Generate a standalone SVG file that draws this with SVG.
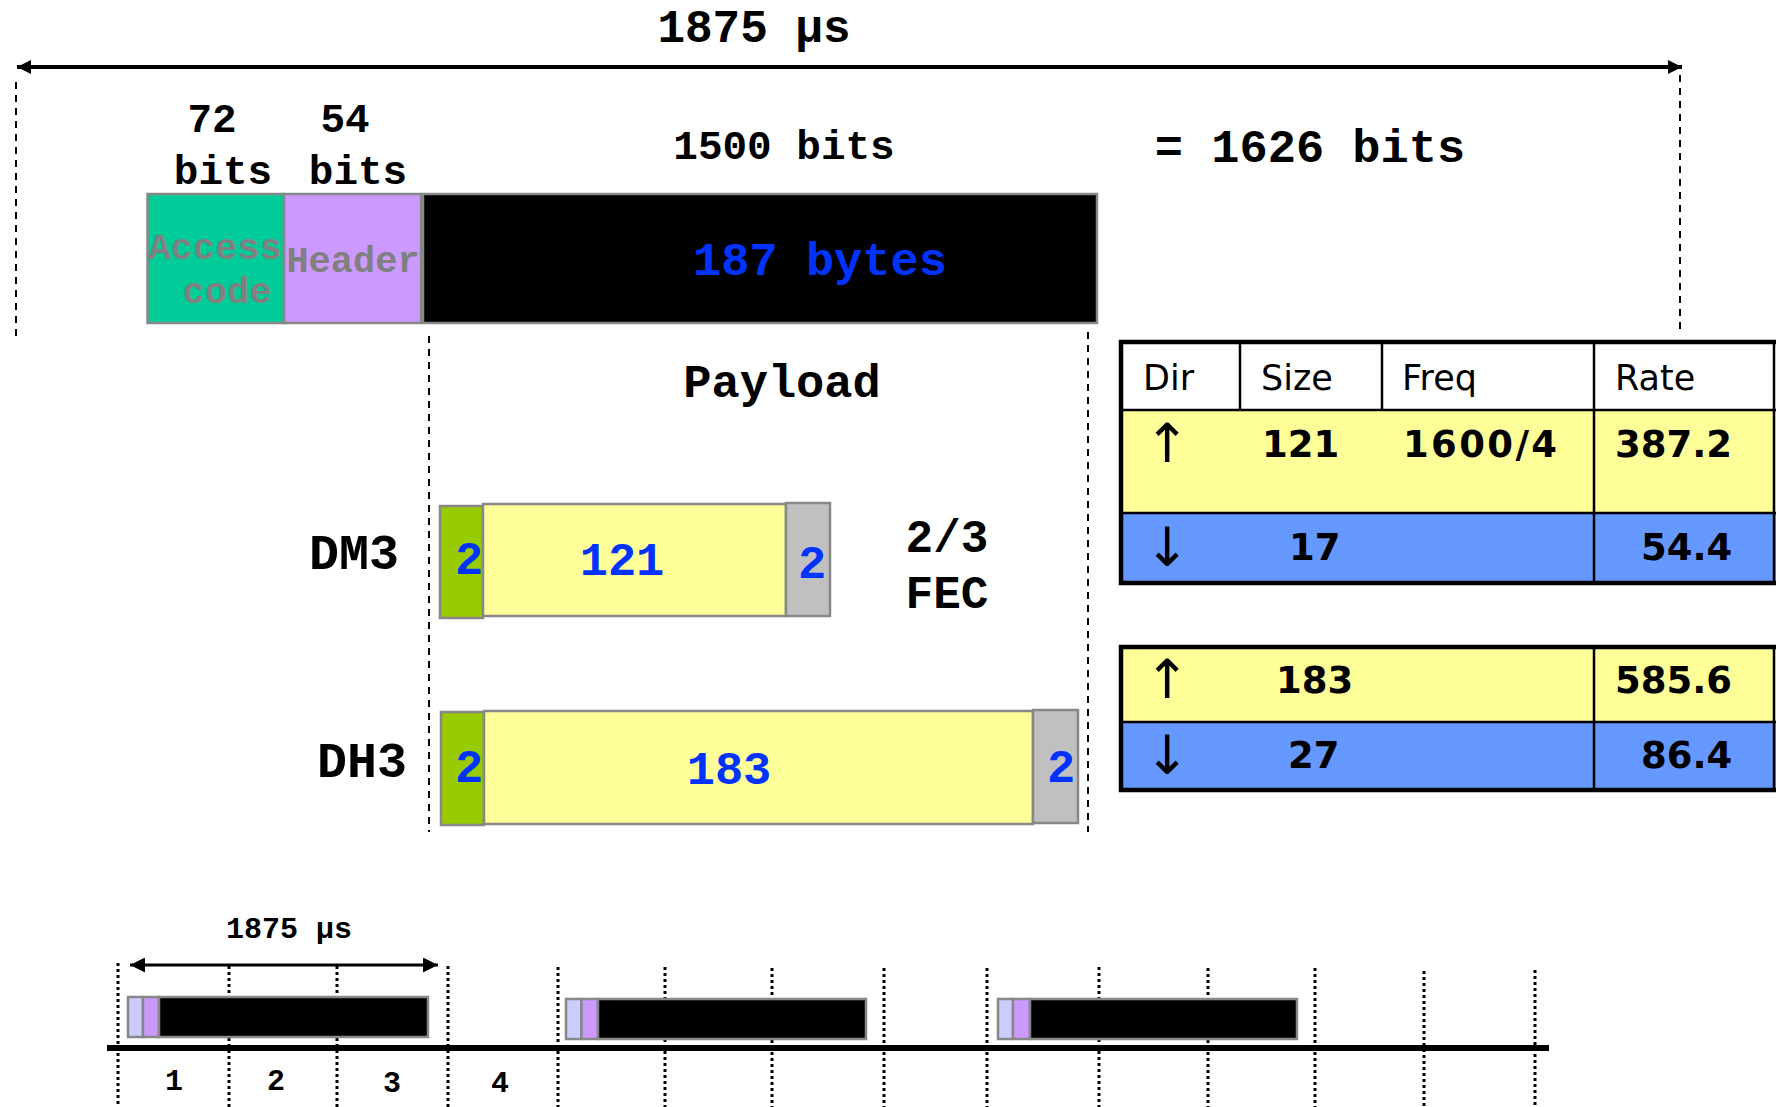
<svg xmlns="http://www.w3.org/2000/svg" width="1776" height="1107" viewBox="0 0 1776 1107">
<defs>
<style>
.m{font-family:"Liberation Mono","DejaVu Sans Mono",monospace;font-weight:bold;text-anchor:middle}
.b{fill:#0033ff}
.g{fill:#808080}
.t{font-family:"DejaVu Sans","Verdana",sans-serif;font-size:35px}
.tb{font-family:"DejaVu Sans","Verdana",sans-serif;font-size:37px;font-weight:bold}
.ar{font-family:"DejaVu Sans","Verdana",sans-serif;font-size:54px;text-anchor:middle}
.box{stroke:#888;stroke-width:2.5}
.dash{stroke:#000;stroke-width:2;stroke-dasharray:7 6;fill:none}
.dot{stroke:#000;stroke-width:3;stroke-dasharray:3 3;fill:none}
.tl{stroke:#000;stroke-width:2.5}
.tk{stroke:#000;stroke-width:4.5}
</style>
<marker id="ah" viewBox="0 0 10 10" refX="10" refY="5" markerWidth="4" markerHeight="3.5" orient="auto-start-reverse" markerUnits="strokeWidth"><path d="M0,0 L10,5 L0,10 z" fill="#000"/></marker>
<marker id="ah2" viewBox="0 0 10 10" refX="10" refY="5" markerWidth="5.2" markerHeight="5" orient="auto-start-reverse" markerUnits="strokeWidth"><path d="M0,0 L10,5 L0,10 z" fill="#000"/></marker>
</defs>
<rect width="1776" height="1107" fill="#fff"/>

<g id="connectors">
<line x1="17" y1="67" x2="1682" y2="67" stroke="#000" stroke-width="4" marker-start="url(#ah)" marker-end="url(#ah)"/>
<line class="dash" x1="16" y1="82" x2="16" y2="338"/>
<line class="dash" x1="1680" y1="75" x2="1680" y2="332"/>
<line class="dash" x1="429" y1="336" x2="429" y2="832"/>
<line class="dash" x1="1088" y1="332" x2="1088" y2="832"/>
<line x1="130" y1="965" x2="438" y2="965" stroke="#000" stroke-width="3" marker-start="url(#ah2)" marker-end="url(#ah2)"/>
<g class="dot">
<line x1="118" y1="963" x2="118" y2="1107"/>
<line x1="229" y1="966" x2="229" y2="1107"/>
<line x1="337" y1="966" x2="337" y2="1107"/>
<line x1="448" y1="966" x2="448" y2="1107"/>
<line x1="558" y1="967" x2="558" y2="1107"/>
<line x1="665" y1="967" x2="665" y2="1107"/>
<line x1="772" y1="968" x2="772" y2="1107"/>
<line x1="884" y1="968" x2="884" y2="1107"/>
<line x1="987" y1="968" x2="987" y2="1107"/>
<line x1="1099" y1="967" x2="1099" y2="1107"/>
<line x1="1208" y1="968" x2="1208" y2="1107"/>
<line x1="1315" y1="968" x2="1315" y2="1107"/>
<line x1="1424" y1="971" x2="1424" y2="1107"/>
<line x1="1535" y1="970" x2="1535" y2="1107"/>
</g>
</g>

<g id="labels-top">
<text class="m" x="754" y="42" font-size="46">1875 µs</text>
<text class="m" x="212" y="132" font-size="41">72</text>
<text class="m" x="345" y="132" font-size="41">54</text>
<text class="m" x="223" y="184" font-size="41">bits</text>
<text class="m" x="358" y="184" font-size="41">bits</text>
<text class="m" x="784" y="159" font-size="41">1500 bits</text>
<text class="m" x="1310" y="162" font-size="47">= 1626 bits</text>
</g>

<g id="packet">
<rect class="box" x="147.5" y="194" width="136.5" height="129" fill="#00cc99"/>
<rect class="box" x="284" y="194" width="137" height="129" fill="#cc99ff"/>
<rect class="box" x="423" y="194" width="674" height="129" fill="#000"/>
<text class="m g" x="215" y="259" font-size="37">Access</text>
<text class="m g" x="227" y="303" font-size="37">code</text>
<text class="m g" x="353" y="272" font-size="37">Header</text>
<text class="m b" x="820" y="275" font-size="47">187 bytes</text>
</g>

<text class="m" x="782" y="397" font-size="47">Payload</text>

<g id="dm3">
<text class="m" x="354" y="569" font-size="50">DM3</text>
<rect class="box" x="440" y="506" width="43" height="112" fill="#99cc00"/>
<rect class="box" x="483" y="504" width="303" height="112" fill="#ffff99"/>
<rect class="box" x="786" y="503" width="44" height="113" fill="#c0c0c0"/>
<text class="m b" x="469" y="574" font-size="47">2</text>
<text class="m b" x="622" y="575" font-size="47">121</text>
<text class="m b" x="812" y="578" font-size="47">2</text>
<text class="m" x="947" y="552" font-size="46">2/3</text>
<text class="m" x="947" y="608" font-size="46">FEC</text>
</g>

<g id="dh3">
<text class="m" x="362" y="777" font-size="50">DH3</text>
<rect class="box" x="441" y="712" width="43" height="113" fill="#99cc00"/>
<rect class="box" x="484" y="711" width="549" height="113" fill="#ffff99"/>
<rect class="box" x="1033" y="710" width="45" height="113" fill="#c0c0c0"/>
<text class="m b" x="469" y="782" font-size="47">2</text>
<text class="m b" x="729" y="784" font-size="47">183</text>
<text class="m b" x="1061" y="782" font-size="47">2</text>
</g>

<g id="table1">
<rect x="1121" y="342" width="655" height="68" fill="#fff"/>
<rect x="1121" y="410" width="655" height="103" fill="#ffff99"/>
<rect x="1121" y="513" width="655" height="70" fill="#6699ff"/>
<line class="tl" x1="1121" y1="410" x2="1776" y2="410"/>
<line class="tl" x1="1121" y1="513" x2="1776" y2="513"/>
<line class="tl" x1="1240" y1="342" x2="1240" y2="410"/>
<line class="tl" x1="1382" y1="342" x2="1382" y2="410"/>
<line class="tl" x1="1594" y1="342" x2="1594" y2="583"/>
<line class="tl" x1="1774" y1="342" x2="1774" y2="583"/>
<line class="tk" x1="1119" y1="342" x2="1776" y2="342"/>
<line class="tk" x1="1121" y1="340" x2="1121" y2="585"/>
<line class="tk" x1="1119" y1="583" x2="1776" y2="583"/>
<text class="t" x="1143" y="390">Dir</text>
<text class="t" x="1261" y="390">Size</text>
<text class="t" x="1402" y="390">Freq</text>
<text class="t" x="1615" y="390">Rate</text>
<text class="ar" x="1167" y="462">↑</text>
<text class="tb" x="1262" y="457">121</text>
<text class="tb" x="1403" y="457" textLength="154">1600/4</text>
<text class="tb" x="1615" y="457">387.2</text>
<text class="ar" x="1167" y="566">↓</text>
<text class="tb" x="1289" y="560">17</text>
<text class="tb" x="1641" y="560">54.4</text>
</g>

<g id="table2">
<rect x="1121" y="647" width="655" height="75" fill="#ffff99"/>
<rect x="1121" y="722" width="655" height="68" fill="#6699ff"/>
<line class="tl" x1="1121" y1="722" x2="1776" y2="722"/>
<line class="tl" x1="1594" y1="647" x2="1594" y2="790"/>
<line class="tl" x1="1774" y1="647" x2="1774" y2="790"/>
<line class="tk" x1="1119" y1="647" x2="1776" y2="647"/>
<line class="tk" x1="1121" y1="645" x2="1121" y2="792"/>
<line class="tk" x1="1119" y1="790" x2="1776" y2="790"/>
<text class="ar" x="1167" y="698">↑</text>
<text class="tb" x="1276" y="693">183</text>
<text class="tb" x="1615" y="693">585.6</text>
<text class="ar" x="1167" y="774">↓</text>
<text class="tb" x="1288" y="768">27</text>
<text class="tb" x="1641" y="768">86.4</text>
</g>

<g id="timeline">
<text class="m" x="289" y="938" font-size="30">1875 µs</text>
<g id="p1">
<rect class="box" x="128" y="997" width="15" height="40" fill="#ccccff" stroke-width="2"/>
<rect class="box" x="143" y="997" width="16" height="40" fill="#cc99ff" stroke-width="2"/>
<rect class="box" x="159" y="997" width="269" height="40" fill="#000" stroke-width="2"/>
</g>
<g id="p2">
<rect class="box" x="566" y="999" width="15.5" height="40" fill="#ccccff" stroke-width="2"/>
<rect class="box" x="581.5" y="999" width="16.5" height="40" fill="#cc99ff" stroke-width="2"/>
<rect class="box" x="598" y="999" width="268" height="40" fill="#000" stroke-width="2"/>
</g>
<g id="p3">
<rect class="box" x="998" y="999" width="15" height="40" fill="#ccccff" stroke-width="2"/>
<rect class="box" x="1013" y="999" width="17" height="40" fill="#cc99ff" stroke-width="2"/>
<rect class="box" x="1030" y="999" width="267" height="40" fill="#000" stroke-width="2"/>
</g>
<rect x="107" y="1045" width="1442" height="6" fill="#000"/>
<text class="m" x="174" y="1090" font-size="30">1</text>
<text class="m" x="276" y="1090" font-size="30">2</text>
<text class="m" x="392" y="1092" font-size="30">3</text>
<text class="m" x="500" y="1092" font-size="30">4</text>
</g>
</svg>
